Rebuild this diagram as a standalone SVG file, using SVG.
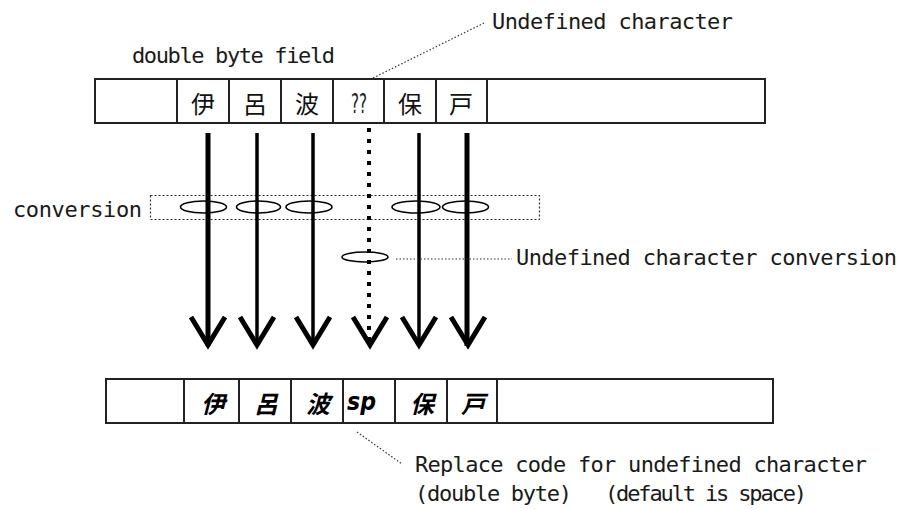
<svg xmlns="http://www.w3.org/2000/svg" xmlns:xlink="http://www.w3.org/1999/xlink" width="900" height="510" viewBox="0 0 900 510">
<style>
.lbl{font-family:"DejaVu Sans Mono","Liberation Mono",monospace;font-size:22px;fill:#1a1a1a}
.box{fill:#fff;stroke:#222;stroke-width:2}
.div{stroke:#222;stroke-width:2}
.cjk{font-family:"Noto Sans CJK JP","Noto Sans CJK SC",sans-serif;font-size:24px;fill:#111;text-anchor:middle}
.cjkb{font-family:"Noto Sans CJK JP","Noto Sans CJK SC",sans-serif;font-size:24px;fill:#000;text-anchor:middle;font-weight:bold;font-style:italic}
.lead{fill:none;stroke:#333;stroke-width:1.2;stroke-dasharray:1.5 2}
.shaft{stroke:#000;fill:none}
.head{fill:none;stroke:#000;stroke-width:5;stroke-linejoin:miter}
.ell{fill:#fff;stroke:#000;stroke-width:1.6}
</style>
<defs>
<path id="head" class="head" d="M-17,-33 L0,-5 L17,-33"/>
</defs>
<rect width="900" height="510" fill="#fff"/>

<g id="label-double-byte-field">
<text class="lbl" x="132" y="63" textLength="203" lengthAdjust="spacing">double byte field</text>
</g>

<g id="label-undefined-character">
<text class="lbl" x="492" y="29" textLength="241" lengthAdjust="spacing">Undefined character</text>
</g>

<g id="source-field">
<rect class="box" x="95" y="79" width="670" height="44"/>
<line class="div" x1="177" y1="79" x2="177" y2="123"/>
<line class="div" x1="229" y1="79" x2="229" y2="123"/>
<line class="div" x1="281" y1="79" x2="281" y2="123"/>
<line class="div" x1="333" y1="79" x2="333" y2="123"/>
<line class="div" x1="384" y1="79" x2="384" y2="123"/>
<line class="div" x1="436" y1="79" x2="436" y2="123"/>
<line class="div" x1="487" y1="79" x2="487" y2="123"/>
<text class="cjk" x="203" y="113">伊</text>
<text class="cjk" x="255" y="113">呂</text>
<text class="cjk" x="307" y="113">波</text>
<text x="351" y="113" font-family="DejaVu Sans,sans-serif" font-size="26" fill="#222" textLength="16" lengthAdjust="spacingAndGlyphs">??</text>
<text class="cjk" x="410" y="113">保</text>
<text class="cjk" x="461" y="113">戸</text>
</g>

<g id="conversion-box">
<text class="lbl" x="13" y="217" textLength="129" lengthAdjust="spacing">conversion</text>
<rect x="150.5" y="195.5" width="389" height="24" fill="none" stroke="#333" stroke-width="1.2" stroke-dasharray="2 2"/>
<ellipse class="ell" cx="203.5" cy="207" rx="23" ry="6"/>
<ellipse class="ell" cx="258.5" cy="207" rx="22" ry="6"/>
<ellipse class="ell" cx="309" cy="207" rx="23" ry="6"/>
<ellipse class="ell" cx="416" cy="207" rx="24" ry="6"/>
<ellipse class="ell" cx="465.5" cy="207" rx="23" ry="6"/>
</g>

<g id="undefined-conversion">
<ellipse class="ell" cx="365" cy="257" rx="23" ry="5"/>
<text class="lbl" x="516" y="265" textLength="381" lengthAdjust="spacing">Undefined character conversion</text>
</g>

<g id="target-field">
<rect class="box" x="106" y="379" width="667" height="44"/>
<line class="div" x1="184" y1="379" x2="184" y2="423"/>
<line class="div" x1="239" y1="379" x2="239" y2="423"/>
<line class="div" x1="291" y1="379" x2="291" y2="423"/>
<line class="div" x1="343" y1="379" x2="343" y2="423"/>
<line class="div" x1="395" y1="379" x2="395" y2="423"/>
<line class="div" x1="447" y1="379" x2="447" y2="423"/>
<line class="div" x1="497" y1="379" x2="497" y2="423"/>
<text class="cjkb" x="213" y="413">伊</text>
<text class="cjkb" x="266" y="413">呂</text>
<text class="cjkb" x="318" y="413">波</text>
<text x="347" y="410" font-family="DejaVu Sans,sans-serif" font-size="25" font-weight="bold" font-style="italic" fill="#000" textLength="29" lengthAdjust="spacingAndGlyphs">sp</text>
<text class="cjkb" x="422" y="413">保</text>
<text class="cjkb" x="473" y="413">戸</text>
</g>

<g id="label-replace-code">
<text class="lbl" x="415" y="472" textLength="452" lengthAdjust="spacing">Replace code for undefined character</text>
<text class="lbl" x="415" y="501" textLength="157" lengthAdjust="spacing">(double byte)</text>
<text class="lbl" x="605" y="501" textLength="202" lengthAdjust="spacing">(default is space)</text>
</g>

<g id="connectors">
<line class="shaft" x1="208" y1="133" x2="208" y2="346" stroke-width="5"/>
<line class="shaft" x1="257" y1="133" x2="257" y2="346" stroke-width="3.5"/>
<line class="shaft" x1="313" y1="133" x2="313" y2="346" stroke-width="3.5"/>
<line class="shaft" x1="369" y1="128" x2="369" y2="340" stroke-width="4" stroke-dasharray="4 7"/>
<line class="shaft" x1="419" y1="133" x2="419" y2="346" stroke-width="3.5"/>
<line class="shaft" x1="467" y1="133" x2="467" y2="346" stroke-width="5"/>
<use xlink:href="#head" x="208" y="350"/>
<use xlink:href="#head" x="257" y="350"/>
<use xlink:href="#head" x="313" y="350"/>
<use xlink:href="#head" x="370" y="350"/>
<use xlink:href="#head" x="419" y="350"/>
<use xlink:href="#head" x="468" y="350"/>
<line class="lead" x1="373" y1="78" x2="484" y2="23"/>
<line class="lead" x1="396" y1="259" x2="512" y2="259"/>
<line class="lead" x1="357" y1="432" x2="402" y2="464"/>
</g>
</svg>
